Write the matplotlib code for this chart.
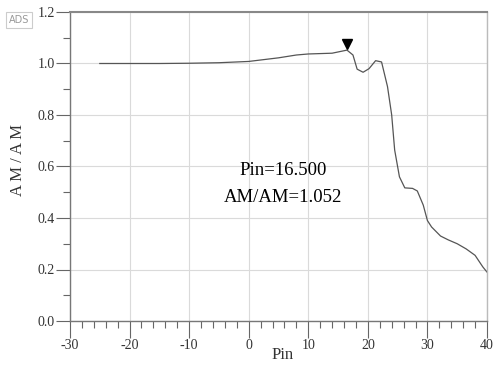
import numpy as np
import matplotlib
matplotlib.use("Agg")
import matplotlib.pyplot as plt
from matplotlib.ticker import MultipleLocator, FuncFormatter
from matplotlib.transforms import offset_copy

# 扫描数据：输入功率与 AM/AM
pin = [-25, -15, -10, -5, 0, 5, 8, 10, 14, 16.5, 17.5, 18.2, 19.2, 20.2, 21.3,
       22.3, 23.3, 24.0, 24.5, 25.3, 26.2, 27.5, 28.3, 29.3, 30.0, 30.7, 32.2,
       33.5, 35.0, 36.5, 38.0, 39.3, 40.0]
am_am = [1.0, 1.0, 1.001, 1.003, 1.008, 1.022, 1.033, 1.037, 1.04, 1.052, 1.033,
         0.978, 0.966, 0.98, 1.011, 1.006, 0.91, 0.80, 0.664, 0.56, 0.517, 0.515,
         0.505, 0.45, 0.39, 0.365, 0.33, 0.315, 0.30, 0.28, 0.255, 0.21, 0.19]
marker_pin = 16.5
marker_val = 1.052

plt.rcParams["font.family"] = ["Liberation Serif", "DejaVu Serif"]

fig = plt.figure(figsize=(4.93, 3.85), dpi=100)
ax = fig.add_axes([70 / 493, 1 - 321 / 385, 417 / 493, 309 / 385])

ax.plot(pin, am_am, color="#555555", linewidth=0.9)
trans = offset_copy(ax.transData, fig=fig, x=0, y=6, units="dots")
ax.plot([marker_pin], [marker_val], marker="v", color="black", markersize=7,
        transform=trans, linestyle="none")

ax.text(5.7, 0.585, f"Pin={marker_pin:.3f}", ha="center", va="center", fontsize=13.5)
ax.text(5.7, 0.478, f"AM/AM={marker_val:.3f}", ha="center", va="center", fontsize=13.5)

ax.set_xlim(-30, 40)
ax.set_ylim(0, 1.2)
ax.xaxis.set_major_locator(MultipleLocator(10))
ax.xaxis.set_minor_locator(MultipleLocator(2))
ax.yaxis.set_major_locator(MultipleLocator(0.2))
ax.yaxis.set_minor_locator(MultipleLocator(0.1))
ax.xaxis.set_major_formatter(FuncFormatter(lambda v, p: f"{v:g}"))
ax.yaxis.set_major_formatter(FuncFormatter(lambda v, p: f"{v:.1f}"))

ax.grid(True, which="major", color="#dadada", linewidth=0.8)
ax.tick_params(axis="x", which="major", direction="out", length=12, width=0.8,
               color="#666666", labelsize=10, labelcolor="#333333", pad=1)
ax.tick_params(axis="x", which="minor", direction="out", length=5, width=0.8,
               color="#666666")
ax.tick_params(axis="y", which="major", direction="out", length=10, width=0.8,
               color="#666666", labelsize=10, labelcolor="#333333", pad=1)
ax.tick_params(axis="y", which="minor", direction="out", length=5, width=0.8,
               color="#666666")
for side in ["left", "bottom"]:
    ax.spines[side].set_color("#777777")
    ax.spines[side].set_linewidth(1.0)
ax.spines["top"].set_color("#888888")
ax.spines["top"].set_linewidth(1.5)
ax.spines["right"].set_color("#bbbbbb")
ax.spines["right"].set_linewidth(1.0)

fig.text(283 / 493, 1 - 355 / 385, "Pin", ha="center", va="center",
         fontsize=12, color="#333333")
fig.text(18 / 493, 1 - 160 / 385, "A M / A M", ha="center", va="center",
         rotation=90, fontsize=12, color="#333333")

fig.text(19 / 493, 1 - 20 / 385, "ADS", ha="center", va="center", fontsize=7,
         color="#999999", family="DejaVu Sans",
         bbox=dict(boxstyle="square,pad=0.3", facecolor="white",
                   edgecolor="#cccccc", linewidth=0.8))

fig.savefig("out.png", dpi=100)
